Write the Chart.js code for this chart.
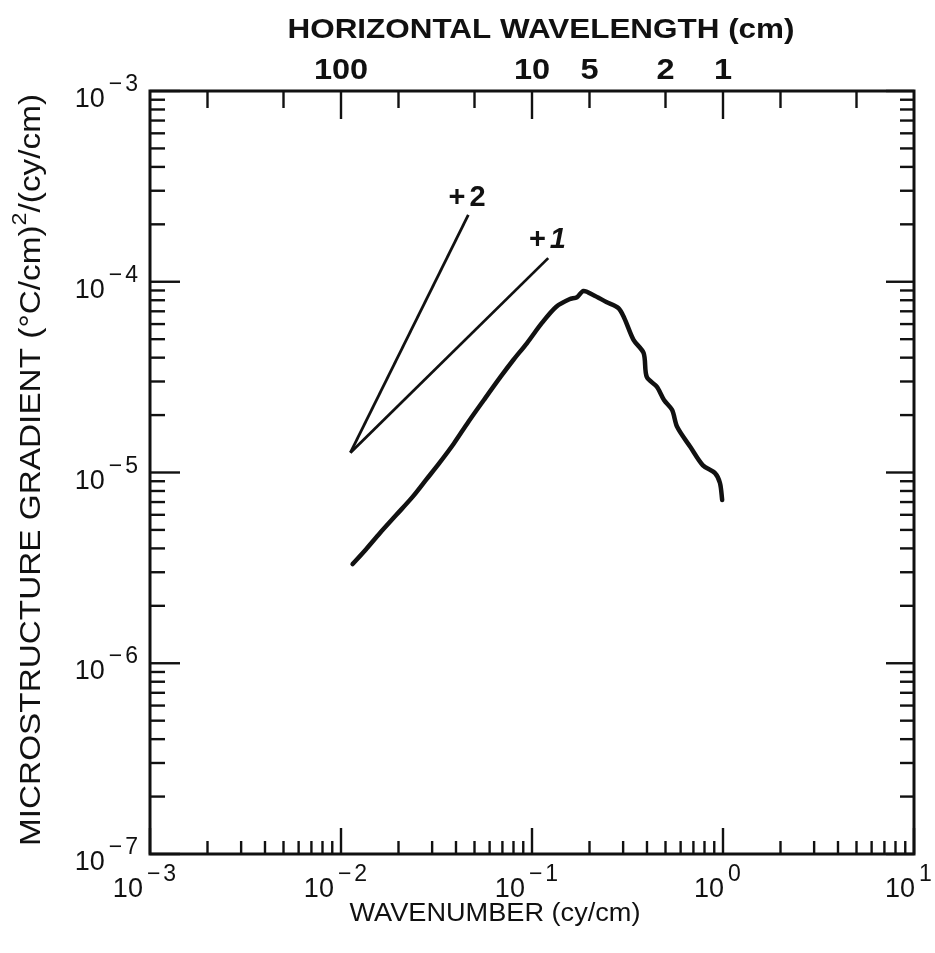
<!DOCTYPE html>
<html>
<head>
<meta charset="utf-8">
<script src="https://cdn.jsdelivr.net/npm/chart.js@4.4.0/dist/chart.umd.min.js"></script>
<style>
  html, body { margin: 0; padding: 0; background: #fff; }
  canvas { display: block; }
</style>
</head>
<body>
<canvas id="spectrum" width="935" height="953"></canvas>
<script>
/* ── Data ── */
const wavenumber = [0.0115, 0.0135, 0.016, 0.0195, 0.0237, 0.0280, 0.0327, 0.0390, 0.0464, 0.0560,
  0.0684, 0.0800, 0.0942, 0.113, 0.134, 0.157, 0.172, 0.186, 0.209, 0.245,
  0.283, 0.304, 0.340, 0.384, 0.399, 0.451, 0.491, 0.541, 0.576, 0.675,
  0.785, 0.908, 0.964, 0.99];
const gradientSpectrum = [3.31e-6, 3.95e-6, 4.82e-6, 6.00e-6, 7.45e-6, 9.20e-6, 1.12e-5, 1.42e-5, 1.84e-5, 2.40e-5,
  3.17e-5, 3.90e-5, 4.77e-5, 6.10e-5, 7.40e-5, 8.10e-5, 8.30e-5, 8.95e-5, 8.53e-5, 7.83e-5,
  7.28e-5, 6.46e-5, 4.96e-5, 4.23e-5, 3.17e-5, 2.81e-5, 2.40e-5, 2.13e-5, 1.73e-5, 1.36e-5,
  1.09e-5, 9.93e-6, 8.81e-6, 7.18e-6];

/* reference slope lines (+2 and +1) */
const slope2K = [0.0112, 0.0464];
const slope2S = [1.27e-5, 2.24e-4];
const slope1K = [0.0112, 0.1216];
const slope1S = [1.27e-5, 1.33e-4];
const slopeLabels = ['2', '1'];
const slopeLabelK = [0.0457, 0.1205];
const slopeLabelS = [2.85e-4, 1.72e-4];

/* axes */
const xDecades = [1e-3, 1e-2, 1e-1, 1, 10];
const xExponents = ['\u22123', '\u22122', '\u22121', '0', '1'];
const yDecades = [1e-7, 1e-6, 1e-5, 1e-4, 1e-3];
const yExponents = ['\u22127', '\u22126', '\u22125', '\u22124', '\u22123'];
const wavelengthTicks = [500, 200, 100, 50, 20, 10, 5, 2, 1, 0.5, 0.2];   // cm
const wavelengthMajor = [100, 10, 1];
const wavelengthLabels = [100, 10, 5, 2, 1];

const INK = '#111';
const FONT = '"Liberation Sans", Arial, Helvetica, sans-serif';

/* minor tick values 2..9 in each decade */
function minorTicks(lo, hi) {
  const out = [];
  for (let d = lo; d < hi; d++) {
    for (let m = 2; m <= 9; m++) out.push(m * Math.pow(10, d));
  }
  return out;
}

/* centred text, stretched either to a target width or by a fixed factor */
function fitText(ctx, str, x, y, font, width, stretch) {
  ctx.save();
  ctx.font = font;
  const sx = width ? width / ctx.measureText(str).width : (stretch || 1);
  ctx.translate(x, y);
  ctx.scale(sx, 1);
  ctx.textAlign = 'center';
  ctx.fillText(str, 0, 0);
  ctx.restore();
}

/* "10" with a raised exponent; anchor = 'center' or 'right' */
function powerLabel(ctx, exp, x, y, anchor) {
  ctx.save();
  ctx.textAlign = 'left';
  ctx.font = '27px ' + FONT;
  const wBase = ctx.measureText('10').width;
  ctx.font = '23px ' + FONT;
  ctx.letterSpacing = '3px';
  const wExp = ctx.measureText(exp).width;
  const gap = 4;
  const total = wBase + gap + wExp;
  const x0 = anchor === 'center' ? x - total / 2 : x - total;
  ctx.fillText(exp, x0 + wBase + gap, y - 16);
  ctx.letterSpacing = '0px';
  ctx.font = '27px ' + FONT;
  ctx.fillText('10', x0, y);
  ctx.restore();
}

/* ── Frame, inward ticks and all text ── */
const framePlugin = {
  id: 'frame',
  afterDraw(chart) {
    const ctx = chart.ctx;
    const a = chart.chartArea;
    const xs = chart.scales.x;
    const ys = chart.scales.y;
    ctx.save();
    ctx.strokeStyle = INK;
    ctx.fillStyle = INK;
    ctx.lineCap = 'butt';

    /* box */
    ctx.lineWidth = 3;
    ctx.strokeRect(a.left, a.top, a.right - a.left, a.bottom - a.top);

    /* tick marks */
    ctx.lineWidth = 2.4;
    const mark = (x1, y1, x2, y2) => { ctx.beginPath(); ctx.moveTo(x1, y1); ctx.lineTo(x2, y2); ctx.stroke(); };

    xDecades.forEach(v => { const p = xs.getPixelForValue(v); mark(p, a.bottom, p, a.bottom - 26); });
    minorTicks(-3, 1).forEach(v => { const p = xs.getPixelForValue(v); mark(p, a.bottom, p, a.bottom - 13); });

    yDecades.forEach(v => {
      const p = ys.getPixelForValue(v);
      mark(a.left, p, a.left + 30, p);
      mark(a.right, p, a.right - 28, p);
    });
    minorTicks(-7, -3).forEach(v => {
      const p = ys.getPixelForValue(v);
      mark(a.left, p, a.left + 15, p);
      mark(a.right, p, a.right - 14, p);
    });

    /* top axis: horizontal wavelength, k = 1 / lambda */
    wavelengthTicks.forEach(lam => {
      const p = xs.getPixelForValue(1 / lam);
      const len = wavelengthMajor.includes(lam) ? 28 : 17;
      mark(p, a.top, p, a.top + len);
    });

    /* tick labels */
    xDecades.forEach((v, i) => powerLabel(ctx, xExponents[i], xs.getPixelForValue(v) - 4, 897, 'center'));
    yDecades.forEach((v, i) => powerLabel(ctx, yExponents[i], a.left - 9, ys.getPixelForValue(v) + 16, 'right'));

    ctx.textBaseline = 'alphabetic';
    wavelengthLabels.forEach(lam => {
      fitText(ctx, String(lam), xs.getPixelForValue(1 / lam), 79, 'bold 29px ' + FONT, null, 1.12);
    });

    /* axis titles */
    fitText(ctx, 'HORIZONTAL WAVELENGTH (cm)', 541, 38, 'bold 28px ' + FONT, 507);
    fitText(ctx, 'WAVENUMBER (cy/cm)', 495, 921, '26px ' + FONT, 291);

    /* y title with superscript 2, rotated */
    ctx.save();
    ctx.translate(40, 470);
    ctx.rotate(-Math.PI / 2);
    const partA = 'MICROSTRUCTURE GRADIENT (\u00B0C/cm)';
    const partB = '/(cy/cm)';
    ctx.font = '30px ' + FONT;
    const wA = ctx.measureText(partA).width;
    const wB = ctx.measureText(partB).width;
    ctx.font = '21px ' + FONT;
    const wS = ctx.measureText('2').width;
    const sx = 752 / (wA + wS + wB);
    ctx.scale(sx, 1);
    let cx = -(wA + wS + wB) / 2;
    ctx.textAlign = 'left';
    ctx.font = '30px ' + FONT;
    ctx.fillText(partA, cx, 0);
    cx += wA;
    ctx.font = '21px ' + FONT;
    ctx.fillText('2', cx, -14);
    cx += wS;
    ctx.font = '30px ' + FONT;
    ctx.fillText(partB, cx, 0);
    ctx.restore();

    /* slope labels */
    slopeLabels.forEach((s, i) => {
      const px = xs.getPixelForValue(slopeLabelK[i]);
      const py = ys.getPixelForValue(slopeLabelS[i]) + 11;
      ctx.textAlign = 'left';
      ctx.font = 'bold 29px ' + FONT;
      const wPlus = ctx.measureText('+').width;
      ctx.font = (i === 1 ? 'italic ' : '') + 'bold 29px ' + FONT;
      const wNum = ctx.measureText(s).width;
      const x0 = px - (wPlus + 4 + wNum) / 2;
      ctx.font = 'bold 29px ' + FONT;
      ctx.fillText('+', x0, py);
      ctx.font = (i === 1 ? 'italic ' : '') + 'bold 29px ' + FONT;
      ctx.fillText(s, x0 + wPlus + 4, py);
    });

    ctx.restore();
  }
};

const toPoints = (xs, ys) => xs.map((x, i) => ({ x: x, y: ys[i] }));

new Chart(document.getElementById('spectrum'), {
  type: 'line',
  data: {
    datasets: [
      {
        data: toPoints(wavenumber, gradientSpectrum),
        borderColor: INK,
        borderWidth: 4.5,
        pointRadius: 0,
        tension: 0.3,
        borderCapStyle: 'round',
        borderJoinStyle: 'round'
      },
      {
        data: toPoints(slope2K, slope2S),
        borderColor: INK,
        borderWidth: 2.8,
        pointRadius: 0
      },
      {
        data: toPoints(slope1K, slope1S),
        borderColor: INK,
        borderWidth: 2.8,
        pointRadius: 0
      }
    ]
  },
  options: {
    responsive: false,
    animation: false,
    layout: { padding: { left: 142, top: 91, right: 21, bottom: 91 } },
    plugins: {
      legend: { display: false },
      tooltip: { enabled: false }
    },
    scales: {
      x: {
        type: 'logarithmic',
        min: 1e-3,
        max: 10,
        ticks: { display: false },
        grid: { display: false },
        border: { display: false }
      },
      y: {
        type: 'logarithmic',
        min: 1e-7,
        max: 1e-3,
        ticks: { display: false },
        grid: { display: false },
        border: { display: false }
      }
    }
  },
  plugins: [framePlugin]
});
</script>
</body>
</html>
